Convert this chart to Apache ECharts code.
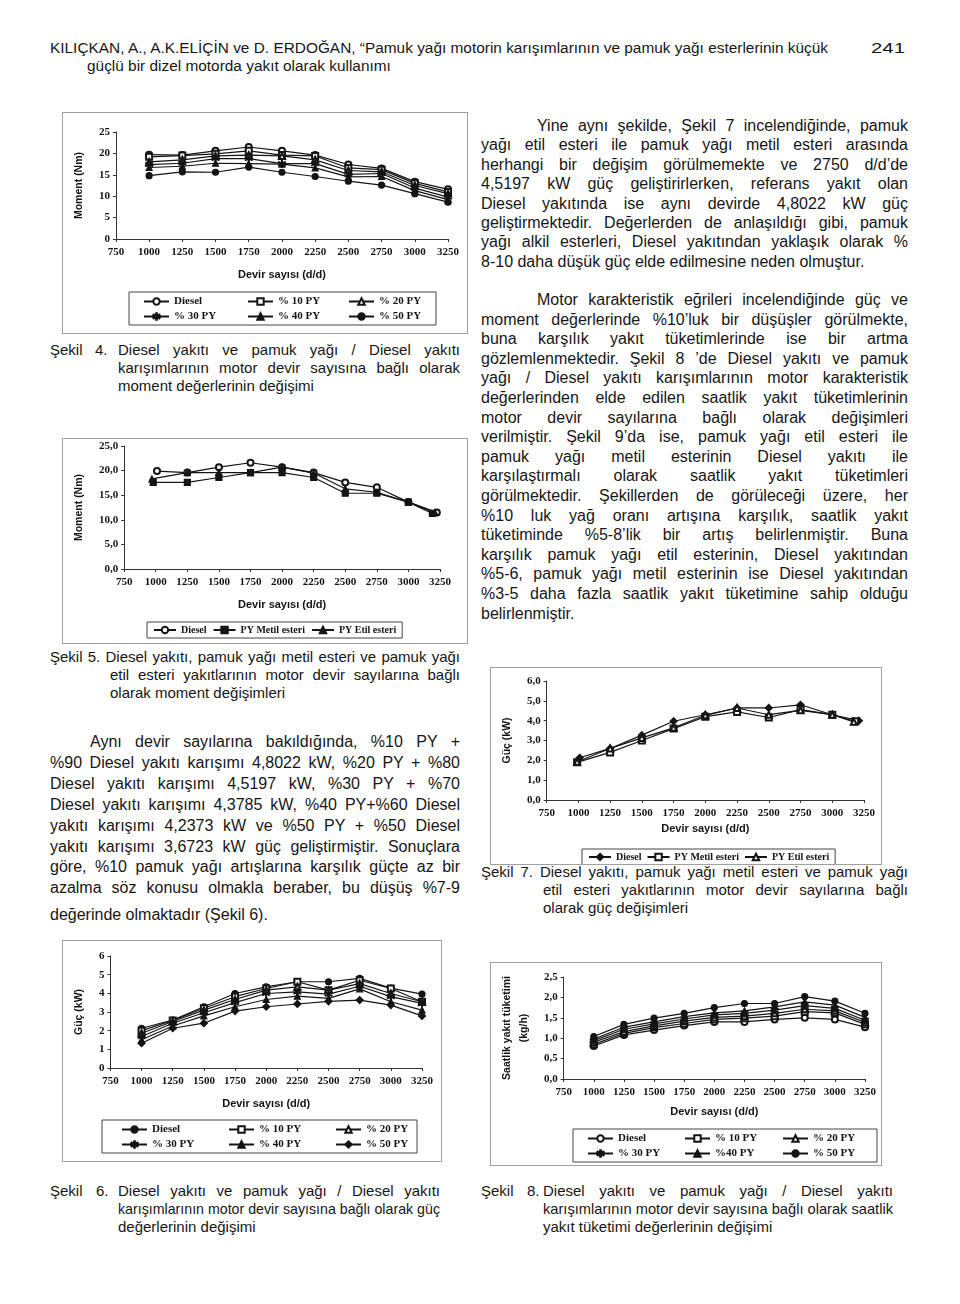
<!DOCTYPE html>
<html><head><meta charset="utf-8">
<script src="https://cdn.jsdelivr.net/npm/echarts@6/dist/echarts.min.js"></script>
<style>
html,body{margin:0;padding:0;background:#fff;}
#page{position:relative;width:960px;height:1304px;overflow:hidden;background:#fff;}
.ln{position:absolute;white-space:nowrap;font-family:"Liberation Sans",Arial,sans-serif;color:#161616;line-height:1;transform-origin:0 50%;}
.chart{position:absolute;border:1px solid #a0a0a0;box-sizing:border-box;}
</style></head>
<body><div id="page"></div>
<script>
// ---------------- DATA ----------------
const rpm = [1000,1250,1500,1750,2000,2250,2500,2750,3000,3250];
const xTicks = [750,1000,1250,1500,1750,2000,2250,2500,2750,3000,3250];

// Şekil 4 – Moment (Nm), blends
const f4Diesel = [19.7,19.6,20.6,21.5,20.6,19.6,17.4,16.5,13.4,11.6];
const f4PY10   = [19.2,19.5,19.9,20.6,19.6,19.4,16.6,16.2,13.0,11.0];
const f4PY20   = [18.0,18.5,19.4,19.6,19.4,18.5,16.0,15.7,12.5,10.6];
const f4PY30   = [17.4,17.7,18.8,18.8,17.6,17.6,15.1,15.3,11.9,9.8];
const f4PY40   = [16.7,17.0,17.7,17.6,17.5,16.6,14.5,14.6,11.3,9.2];
const f4PY50   = [14.8,15.7,15.6,16.8,15.6,14.6,13.5,12.6,10.6,8.6];

// Şekil 5 – Moment (Nm), esters
const f5DieselRpm = [1010,1250,1500,1750,2000,2250,2500,2750,3000,3225];
const f5Diesel    = [19.9,19.6,20.7,21.6,20.7,19.6,17.6,16.6,13.6,11.5];
const f5MetilRpm  = [980,1250,1500,1750,2000,2250,2500,2750,3000,3190];
const f5Metil     = [17.6,17.6,18.6,19.6,19.6,18.6,15.4,15.4,13.6,11.3];
const f5EtilRpm   = [970,1250,1500,1750,2000,2250,2500,2750,3000,3210];
const f5Etil      = [18.3,19.6,19.6,19.6,20.7,19.5,16.3,15.6,13.6,11.5];

// Şekil 7 – Güç (kW), esters
const f7DieselRpm = [1010,1250,1500,1750,2000,2250,2500,2750,3000,3210];
const f7Diesel    = [2.13,2.60,3.27,3.97,4.30,4.64,4.64,4.80,4.30,4.00];
const f7MetilRpm  = [990,1250,1500,1750,2000,2250,2500,2750,3000,3180];
const f7Metil     = [1.90,2.40,3.00,3.60,4.20,4.44,4.16,4.56,4.30,3.97];
const f7EtilRpm   = [990,1250,1500,1750,2000,2250,2500,2750,3000,3170];
const f7Etil      = [1.93,2.60,3.13,3.64,4.27,4.64,4.30,4.52,4.30,3.94];

// Şekil 6 – Güç (kW), blends
const f6Diesel = [2.13,2.57,3.28,3.99,4.35,4.62,4.62,4.80,4.28,3.96];
const f6PY10   = [2.00,2.55,3.20,3.82,4.26,4.62,4.17,4.70,4.26,3.55];
const f6PY20   = [1.86,2.49,3.10,3.67,4.17,4.35,4.17,4.52,3.99,3.55];
const f6PY30   = [1.69,2.40,2.96,3.50,3.99,4.08,3.96,4.38,3.82,3.46];
const f6PY40   = [1.51,2.25,2.79,3.28,3.67,3.85,3.73,4.24,3.55,3.10];
const f6PY50   = [1.33,2.13,2.40,3.05,3.28,3.43,3.57,3.64,3.37,2.79];

// Şekil 8 – Saatlik yakıt tüketimi (kg/h), blends
const f8Diesel = [0.81,1.08,1.20,1.31,1.40,1.40,1.46,1.50,1.46,1.27];
const f8PY10   = [0.85,1.12,1.26,1.36,1.46,1.49,1.54,1.65,1.62,1.34];
const f8PY20   = [0.90,1.16,1.30,1.42,1.51,1.54,1.61,1.71,1.67,1.39];
const f8PY30   = [0.94,1.22,1.35,1.47,1.57,1.61,1.69,1.80,1.73,1.44];
const f8PY40   = [0.98,1.27,1.40,1.53,1.62,1.67,1.77,1.89,1.81,1.51];
const f8PY50   = [1.04,1.34,1.49,1.61,1.75,1.85,1.85,2.02,1.91,1.61];

// ---------------- TEXT ----------------
const page = document.getElementById('page');
function addLine(text, x, yc, o) {
  o = o || {};
  const size = o.size || 16;
  const d = document.createElement('div');
  d.className = 'ln';
  d.textContent = text;
  d.style.fontSize = size + 'px';
  d.style.left = x + 'px';
  d.style.top = (yc - size / 2) + 'px';
  page.appendChild(d);
  const nat = d.getBoundingClientRect().width;
  if (o.scale) {
    d.style.transform = 'scaleX(' + o.scale + ')';
  } else if (o.width) {
    const spaces = (text.match(/ /g) || []).length;
    if (o.fit || nat > o.width || spaces === 0) {
      d.style.transform = 'scaleX(' + (o.width / nat) + ')';
    } else if (o.justify) {
      d.style.wordSpacing = ((o.width - nat) / spaces) + 'px';
    }
  }
  d.natural = nat;
  return d;
}
function para(lines, x, right, y0, step, size, indent) {
  lines.forEach((t, i) => {
    const last = i === lines.length - 1;
    const lx = (i === 0 && indent) ? indent : x;
    addLine(t, lx, y0 + i * step, { size: size, width: last ? 0 : right - lx, justify: !last });
  });
}

// header
const h1 = addLine('KILIÇKAN, A., A.K.ELİÇİN ve D. ERDOĞAN, “Pamuk yağı motorin karışımlarının ve pamuk yağı esterlerinin küçük', 50, 48, { size: 14, width: 778, fit: true });
const hScale = 778 / h1.natural;
addLine('güçlü bir dizel motorda yakıt olarak kullanımı', 87, 66, { size: 14, scale: hScale });
addLine('241', 871, 48, { size: 14, width: 34, fit: true });

// right column, paragraph 1
para([
  'Yine aynı şekilde, Şekil 7 incelendiğinde, pamuk',
  'yağı etil esteri ile pamuk yağı metil esteri arasında',
  'herhangi bir değişim görülmemekte ve 2750 d/d’de',
  '4,5197 kW güç geliştirirlerken, referans yakıt olan',
  'Diesel yakıtında ise aynı devirde 4,8022 kW güç',
  'geliştirmektedir. Değerlerden de anlaşıldığı gibi, pamuk',
  'yağı alkil esterleri, Diesel yakıtından yaklaşık olarak %',
  '8-10 daha düşük güç elde edilmesine neden olmuştur.'
], 481, 908, 126, 19.4, 16, 537);

// right column, paragraph 2
para([
  'Motor karakteristik eğrileri incelendiğinde güç ve',
  'moment değerlerinde %10’luk bir düşüşler görülmekte,',
  'buna karşılık yakıt tüketimlerinde ise bir artma',
  'gözlemlenmektedir. Şekil 8 ’de Diesel yakıtı ve pamuk',
  'yağı / Diesel yakıtı karışımlarının motor karakteristik',
  'değerlerinden elde edilen saatlik yakıt tüketimlerinin',
  'motor devir sayılarına bağlı olarak değişimleri',
  'verilmiştir. Şekil 9’da ise, pamuk yağı etil esteri ile',
  'pamuk yağı metil esterinin Diesel yakıtı ile',
  'karşılaştırmalı olarak saatlik yakıt tüketimleri',
  'görülmektedir. Şekillerden de görüleceği üzere, her',
  '%10 luk yağ oranı artışına karşılık, saatlik yakıt',
  'tüketiminde %5-8’lik bir artış belirlenmiştir. Buna',
  'karşılık pamuk yağı etil esterinin, Diesel yakıtından',
  '%5-6, pamuk yağı metil esterinin ise Diesel yakıtından',
  '%3-5 daha fazla saatlik yakıt tüketimine sahip olduğu',
  'belirlenmiştir.'
], 481, 908, 300, 19.6, 16, 537);

// captions
const CS = 15;
addLine('Şekil', 50, 349, { size: CS });
addLine('4.', 95, 349, { size: CS });
para(['Diesel yakıtı ve pamuk yağı / Diesel yakıtı',
      'karışımlarının motor devir sayısına bağlı olarak',
      'moment değerlerinin değişimi'], 118, 460, 349, 18, CS);
para(['Şekil 5. Diesel yakıtı, pamuk yağı metil esteri ve pamuk yağı', ''], 50, 460, 656, 18, CS);
para(['etil esteri yakıtlarının motor devir sayılarına bağlı',
      'olarak moment değişimleri'], 110, 460, 674, 18.5, CS);

// left paragraph
para([
  'Aynı devir sayılarına bakıldığında, %10 PY +',
  '%90 Diesel yakıtı karışımı 4,8022 kW, %20 PY + %80',
  'Diesel yakıtı karışımı 4,5197 kW, %30 PY + %70',
  'Diesel yakıtı karışımı 4,3785 kW, %40 PY+%60 Diesel',
  'yakıtı karışımı 4,2373 kW ve %50 PY + %50 Diesel',
  'yakıtı karışımı 3,6723 kW güç geliştirmiştir. Sonuçlara',
  'göre, %10 pamuk yağı artışlarına karşılık güçte az bir',
  'azalma söz konusu olmakla beraber, bu düşüş %7-9',
  ''
], 50, 460, 742, 20.9, 16, 90);
addLine('değerinde olmaktadır (Şekil 6).', 50, 915, { size: 16 });

para(['Şekil 7. Diesel yakıtı, pamuk yağı metil esteri ve pamuk yağı', ''], 481, 908, 871, 18, CS);
para(['etil esteri yakıtlarının motor devir sayılarına bağlı',
      'olarak güç değişimleri'], 543, 908, 889, 18, CS);

addLine('Şekil', 50, 1190, { size: CS });
addLine('6.', 96, 1190, { size: CS });
para(['Diesel yakıtı ve pamuk yağı / Diesel yakıtı',
      'karışımlarının motor devir sayısına bağlı olarak güç',
      'değerlerinin değişimi'], 118, 440, 1190, 18, CS);

addLine('Şekil', 481, 1190, { size: CS });
addLine('8.', 527, 1190, { size: CS });
para(['Diesel yakıtı ve pamuk yağı / Diesel yakıtı',
      'karışımlarının motor devir sayısına bağlı olarak saatlik',
      'yakıt tüketimi değerlerinin değişimi'], 543, 893, 1190, 18, CS);

// ---------------- CHARTS ----------------
const SERIF = '"Liberation Serif","Times New Roman",serif';
const SANS = '"Liberation Sans",Arial,sans-serif';
const INK = '#141414';
const ASTER = 'path://M-0.5,-5L0.5,-5L0.5,5L-0.5,5Z M4.1,2.9L4.6,2.05L-4.1,-2.9L-4.6,-2.05Z M-4.6,2.05L-4.1,2.9L4.6,-2.05L4.1,-2.9Z';
const comma = v => v.toFixed(1).replace('.', ',');

function makeChart(box, cfg) {
  const el = document.createElement('div');
  el.className = 'chart';
  el.style.left = box[0] + 'px'; el.style.top = box[1] + 'px';
  el.style.width = box[2] + 'px'; el.style.height = box[3] + 'px';
  page.appendChild(el);
  const ch = echarts.init(el, null, { renderer: 'canvas' });
  const lblStyle = { fontFamily: SERIF, fontWeight: 'bold', fontSize: 11, color: INK };
  const axisCommon = {
    axisLine: { show: true, onZero: false, lineStyle: { color: '#333', width: 1 } },
    axisTick: { show: true, length: 3, lineStyle: { color: '#333' } },
    splitLine: { show: false }
  };
  const legends = cfg.legends.map(l => {
    const base = {
      data: l.data, left: l.left, top: l.top, orient: l.orient || 'vertical',
      itemGap: l.gap || 4, itemWidth: l.iw || 25, itemHeight: 8, selectedMode: false,
      padding: 0, textStyle: { fontFamily: SERIF, fontWeight: 'bold', fontSize: l.fs || 11, color: INK }
    };
    if (l.boxed) Object.assign(base, { padding: [3, 6, 3, 6], borderColor: '#444', borderWidth: 1 });
    return base;
  });
  ch.setOption({
    animation: false,
    grid: cfg.grid,
    xAxis: Object.assign({
      type: 'value', min: xTicks[0], max: xTicks[xTicks.length - 1], interval: 250,
      name: 'Devir sayısı (d/d)', nameLocation: 'middle', nameGap: cfg.xNameGap,
      nameTextStyle: { fontFamily: SANS, fontWeight: 'bold', fontSize: 11, color: INK },
      axisLabel: Object.assign({ margin: cfg.xLabelMargin || 8, formatter: v => String(v) }, lblStyle)
    }, axisCommon),
    yAxis: Object.assign({
      type: 'value', min: 0, max: cfg.yMax, interval: cfg.yStep,
      name: cfg.yName, nameLocation: 'middle', nameGap: cfg.yNameGap, nameRotate: 90,
      nameTextStyle: { fontFamily: SANS, fontWeight: 'bold', fontSize: 10.5, color: INK, lineHeight: 17 },
      axisLabel: Object.assign({ margin: 6, formatter: cfg.yFmt }, lblStyle)
    }, axisCommon),
    legend: legends,
    graphic: cfg.legendBox ? [{ type: 'rect', shape: cfg.legendBox, style: { fill: 'none', stroke: '#444', lineWidth: 1 }, silent: true }] : [],
    series: cfg.series.map(s => ({
      type: 'line', name: s.name,
      data: s.x.map((x, i) => [x, s.y[i]]),
      symbol: s.symbol, symbolSize: s.size || 6,
      lineStyle: { color: INK, width: 1.2 },
      itemStyle: { color: INK, borderColor: INK, borderWidth: 1.2 },
      emphasis: { disabled: true }
    }))
  });
}

// Şekil 4
makeChart([62, 112, 406, 222], {
  grid: { left: 41, top: 19, width: 344, height: 107 },
  yMax: 25, yStep: 5, yName: 'Moment (Nm)', yNameGap: 27, yFmt: v => String(v),
  xNameGap: 30,
  legendBox: { x: 66, y: 179, width: 307, height: 33 },
  legends: [
    { data: ['Diesel', '% 30 PY'], left: 80, top: 183 },
    { data: ['% 10 PY', '% 40 PY'], left: 184, top: 183 },
    { data: ['% 20 PY', '% 50 PY'], left: 285, top: 183 }
  ],
  series: [
    { name: 'Diesel', x: rpm, y: f4Diesel, symbol: 'emptyCircle' },
    { name: '% 10 PY', x: rpm, y: f4PY10, symbol: 'emptyRect' },
    { name: '% 20 PY', x: rpm, y: f4PY20, symbol: 'emptyTriangle' },
    { name: '% 30 PY', x: rpm, y: f4PY30, symbol: ASTER, size: 7 },
    { name: '% 40 PY', x: rpm, y: f4PY40, symbol: 'triangle' },
    { name: '% 50 PY', x: rpm, y: f4PY50, symbol: 'circle' }
  ]
});

// Şekil 5
makeChart([62, 438, 406, 206], {
  grid: { left: 50, top: 7, width: 327, height: 123 },
  yMax: 25, yStep: 5, yName: 'Moment (Nm)', yNameGap: 36, yFmt: comma,
  xNameGap: 30,
  legends: [
    { data: ['Diesel', 'PY Metil esteri', 'PY Etil esteri'], left: 84, top: 183, orient: 'horizontal', gap: 6, iw: 22, fs: 10, boxed: true }
  ],
  series: [
    { name: 'Diesel', x: f5DieselRpm, y: f5Diesel, symbol: 'emptyCircle' },
    { name: 'PY Metil esteri', x: f5MetilRpm, y: f5Metil, symbol: 'rect' },
    { name: 'PY Etil esteri', x: f5EtilRpm, y: f5Etil, symbol: 'triangle' }
  ]
});

// Şekil 7
makeChart([490, 667, 392, 198], {
  grid: { left: 55, top: 13, width: 318, height: 119 },
  yMax: 6, yStep: 1, yName: 'Güç (kW)', yNameGap: 27, yFmt: comma,
  xNameGap: 23,
  legends: [
    { data: ['Diesel', 'PY Metil esteri', 'PY Etil esteri'], left: 91, top: 181, orient: 'horizontal', gap: 5, iw: 22, fs: 10, boxed: true }
  ],
  series: [
    { name: 'Diesel', x: f7DieselRpm, y: f7Diesel, symbol: 'diamond', size: 7 },
    { name: 'PY Metil esteri', x: f7MetilRpm, y: f7Metil, symbol: 'emptyRect' },
    { name: 'PY Etil esteri', x: f7EtilRpm, y: f7Etil, symbol: 'emptyTriangle' }
  ]
});

// Şekil 6
makeChart([62, 940, 380, 222], {
  grid: { left: 29, top: 15, width: 330, height: 112 },
  yMax: 6, yStep: 1, yName: 'Güç (kW)', yNameGap: 18, yFmt: v => String(v),
  xNameGap: 30,
  legendBox: { x: 39, y: 179, width: 315, height: 33 },
  legends: [
    { data: ['Diesel', '% 30 PY'], left: 58, top: 183 },
    { data: ['% 10 PY', '% 40 PY'], left: 165, top: 183 },
    { data: ['% 20 PY', '% 50 PY'], left: 272, top: 183 }
  ],
  series: [
    { name: 'Diesel', x: rpm, y: f6Diesel, symbol: 'circle' },
    { name: '% 10 PY', x: rpm, y: f6PY10, symbol: 'emptyRect' },
    { name: '% 20 PY', x: rpm, y: f6PY20, symbol: 'emptyTriangle' },
    { name: '% 30 PY', x: rpm, y: f6PY30, symbol: ASTER, size: 7 },
    { name: '% 40 PY', x: rpm, y: f6PY40, symbol: 'triangle' },
    { name: '% 50 PY', x: rpm, y: f6PY50, symbol: 'diamond', size: 7 }
  ]
});

// Şekil 8
makeChart([490, 962, 392, 204], {
  grid: { left: 65, top: 14, width: 309, height: 102 },
  yMax: 2.5, yStep: 0.5, yName: 'Saatlik yakıt tüketimi\n(kg/h)', yNameGap: 28, yFmt: comma,
  xNameGap: 27,
  legendBox: { x: 82, y: 166, width: 304, height: 33 },
  legends: [
    { data: ['Diesel', '% 30 PY'], left: 96, top: 170 },
    { data: ['% 10 PY', '%40 PY'], left: 193, top: 170 },
    { data: ['% 20 PY', '% 50 PY'], left: 291, top: 170 }
  ],
  series: [
    { name: 'Diesel', x: rpm, y: f8Diesel, symbol: 'emptyCircle' },
    { name: '% 10 PY', x: rpm, y: f8PY10, symbol: 'emptyRect' },
    { name: '% 20 PY', x: rpm, y: f8PY20, symbol: 'emptyTriangle' },
    { name: '% 30 PY', x: rpm, y: f8PY30, symbol: ASTER, size: 7 },
    { name: '%40 PY', x: rpm, y: f8PY40, symbol: 'triangle' },
    { name: '% 50 PY', x: rpm, y: f8PY50, symbol: 'circle' }
  ]
});
</script>
</body></html>
